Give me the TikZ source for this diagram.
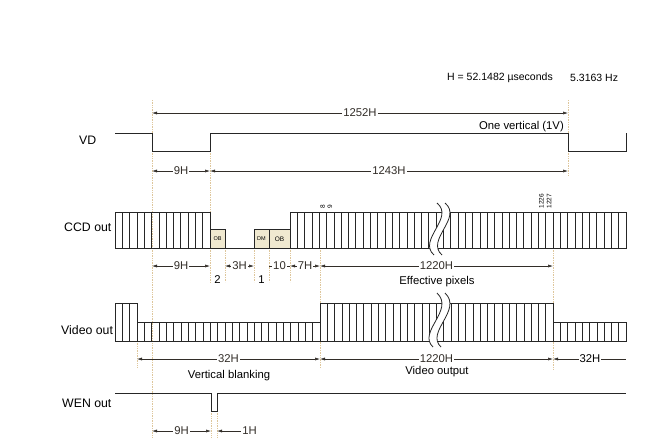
\documentclass[tikz,border=0pt]{standalone}
\usepackage{fontspec}
\setmainfont{Liberation Sans}
\usetikzlibrary{arrows.meta}
\definecolor{guidetan}{RGB}{222,198,155}
\definecolor{dimgray}{RGB}{50,45,40}
\definecolor{obfill}{RGB}{240,233,208}

\begin{document}
\begin{tikzpicture}[x=1pt,y=-1pt,
  wave/.style={black!85, line width=0.8pt},
  cell/.style={black!85, line width=0.6pt},
  guide/.style={guidetan, densely dotted, line width=0.7pt},
  dimline/.style={{Latex[length=5pt,width=3pt]}-{Latex[length=5pt,width=3pt]}, dimgray, line width=0.5pt},
  dimtext/.style={fill=white, inner sep=1pt, font=\fontsize{11.3}{13}\selectfont},
  rowlabel/.style={anchor=west, inner sep=0pt, font=\fontsize{12.3}{14}\selectfont},
  pixtag/.style={rotate=90, anchor=west, inner sep=0.3pt, font=\fontsize{6.5}{7}\selectfont},
  obcell/.style={wave, fill=obfill},
  obtext/.style={inner sep=0pt, font=\fontsize{5.5}{6}\selectfont}]

  \useasboundingbox (0,0) rectangle (650,437);

  % Guide lines
  \draw[guide] (152,100) -- (152,437);
  \draw[guide] (568,100) -- (568,176);
  \draw[guide] (210,151) -- (210,282);
  \foreach \gx in {225,254,269,290}
    \draw[guide] (\gx,248) -- (\gx,282);
  \draw[guide] (320,248) -- (320,368);
  \draw[guide] (553,248) -- (553,370);
  \draw[guide] (137,341) -- (137,368);
  \draw[guide] (211,411) -- (211,437);
  \draw[guide] (217,411) -- (217,437);

  % Period text
  \node[dimtext, anchor=west, font=\fontsize{10.5}{12}\selectfont] (hline) at (446,78) {H = 52.1482 µseconds};
  \node[dimtext, anchor=west, font=\fontsize{10.5}{12}\selectfont] (freq) at (569,78) {5.3163 Hz};

  % Row labels
  \node[rowlabel] (vd) at (79,140) {VD};
  \node[rowlabel] (ccd) at (64,227) {CCD out};
  \node[rowlabel] (video) at (61,330) {Video out};
  \node[rowlabel] (wen) at (62,403) {WEN out};

  % VD
  \draw[wave] (115,133) -- (152,133) -- (152,151) -- (210,151) -- (210,133)
    -- (568,133) -- (568,151) -- (626,151) -- (626,133);
  \draw[dimline] (152,113) -- node[dimtext] (vdall) {1252H} (568,113);
  \node[dimtext, anchor=east, fill=none] (onev) at (565,127) {One vertical (1V)};
  \draw[dimline] (152,171) -- node[dimtext] (vdlow) {9H} (210,171);
  \draw[dimline] (210,171) -- node[dimtext] (vdhigh) {1243H} (568,171);

  % CCD out
  \draw[wave] (115,212) rectangle (210,248);
  \foreach \i in {1,...,12}
    \draw[cell] ({115+\i*95/13},212) -- ++(0,36);
  \draw[obcell] (210,229) rectangle (225,248);
  \node[obtext] (ob1) at (217.5,239) {OB};
  \draw[wave] (225,248) -- (254,248);
  \draw[obcell] (254,229) rectangle (269,248);
  \node[obtext] (dm) at (261.5,239) {DM};
  \draw[obcell] (269,229) rectangle (290,248);
  \node[obtext, font=\fontsize{6.5}{7}\selectfont] (ob2) at (279.5,239) {OB};
  \draw[wave] (290,212) rectangle (626,248);
  \foreach \i in {1,...,45}
    \draw[cell] ({290+\i*7.304},212) -- ++(0,36);
  \fill[white] (437,203) .. controls (455,218) and (417,240) .. (434,255)
    -- (442,255) .. controls (425,240) and (463,218) .. (445,203) -- cycle;
  \draw[wave] (437,203) .. controls (455,218) and (417,240) .. (434,255);
  \draw[wave] (445,203) .. controls (463,218) and (425,240) .. (442,255);
  \node[pixtag] (p8) at (322.6,209) {8};
  \node[pixtag] (p9) at (329.9,209) {9};
  \node[pixtag] (p1226) at (541.5,209) {1226};
  \node[pixtag] (p1227) at (549.2,209) {1227};

  \draw[dimline] (152,266) -- node[dimtext] (ccd9) {9H} (210,266);
  \draw[dimline] (225,266) -- node[dimtext] (ccd3) {3H} (254,266);
  \draw[dimgray, line width=0.5pt] (269,266) -- node[dimtext] (ccd10) {10} (290,266);
  \draw[dimline] (290,266) -- node[dimtext] (ccd7) {7H} (320,266);
  \draw[dimline] (320,266) -- node[dimtext] (ccdeff) {1220H} (553,266);
  \node[dimtext, fill=none] (two) at (217.5,280) {2};
  \node[dimtext, fill=none] (one) at (261.5,280) {1};
  \node[dimtext, fill=none] (effpix) at (437,282) {Effective pixels};

  % Video out
  \draw[wave] (115,303) rectangle (137,341);
  \foreach \i in {1,2}
    \draw[cell] ({115+\i*22/3},303) -- ++(0,38);
  \draw[wave] (137,322) rectangle (320,341);
  \foreach \i in {1,...,24}
    \draw[cell] ({137+\i*183/25},322) -- ++(0,19);
  \draw[wave] (320,303) rectangle (553,341);
  \foreach \i in {1,...,31}
    \draw[cell] ({320+\i*233/32},303) -- ++(0,38);
  \draw[wave] (553,322) rectangle (626,341);
  \foreach \i in {1,...,9}
    \draw[cell] ({553+\i*7.3},322) -- ++(0,19);
  \fill[white] (437,293) .. controls (455,310) and (417,332) .. (433,347)
    -- (441,347) .. controls (425,332) and (463,310) .. (445,293) -- cycle;
  \draw[wave] (437,293) .. controls (455,310) and (417,332) .. (433,347);
  \draw[wave] (445,293) .. controls (463,310) and (425,332) .. (441,347);

  \draw[dimline] (137,359) -- node[dimtext] (blank1) {32H} (320,359);
  \draw[dimline] (320,359) -- node[dimtext] (vout) {1220H} (553,359);
  \draw[{Latex[length=5pt,width=3pt]}-, dimgray, line width=0.5pt] (553,359) -- (626,359);
  \node[dimtext] (blank2) at (590,359) {32H};
  \node[dimtext, fill=none] (vblank) at (229,376) {Vertical blanking};
  \node[dimtext, fill=none] (voutput) at (437,372) {Video output};

  % WEN out
  \draw[wave] (115,393) -- (211,393) -- (211,411) -- (217,411) -- (217,393) -- (626,393);
  \draw[dimline] (152,431) -- node[dimtext] (wen9) {9H} (211,431);
  \draw[{Latex[length=5pt,width=3pt]}-, dimgray, line width=0.5pt] (217,431) -- (241,431)
    node[dimtext, fill=none, anchor=west] (wen1) {1H};

\end{tikzpicture}
\end{document}
